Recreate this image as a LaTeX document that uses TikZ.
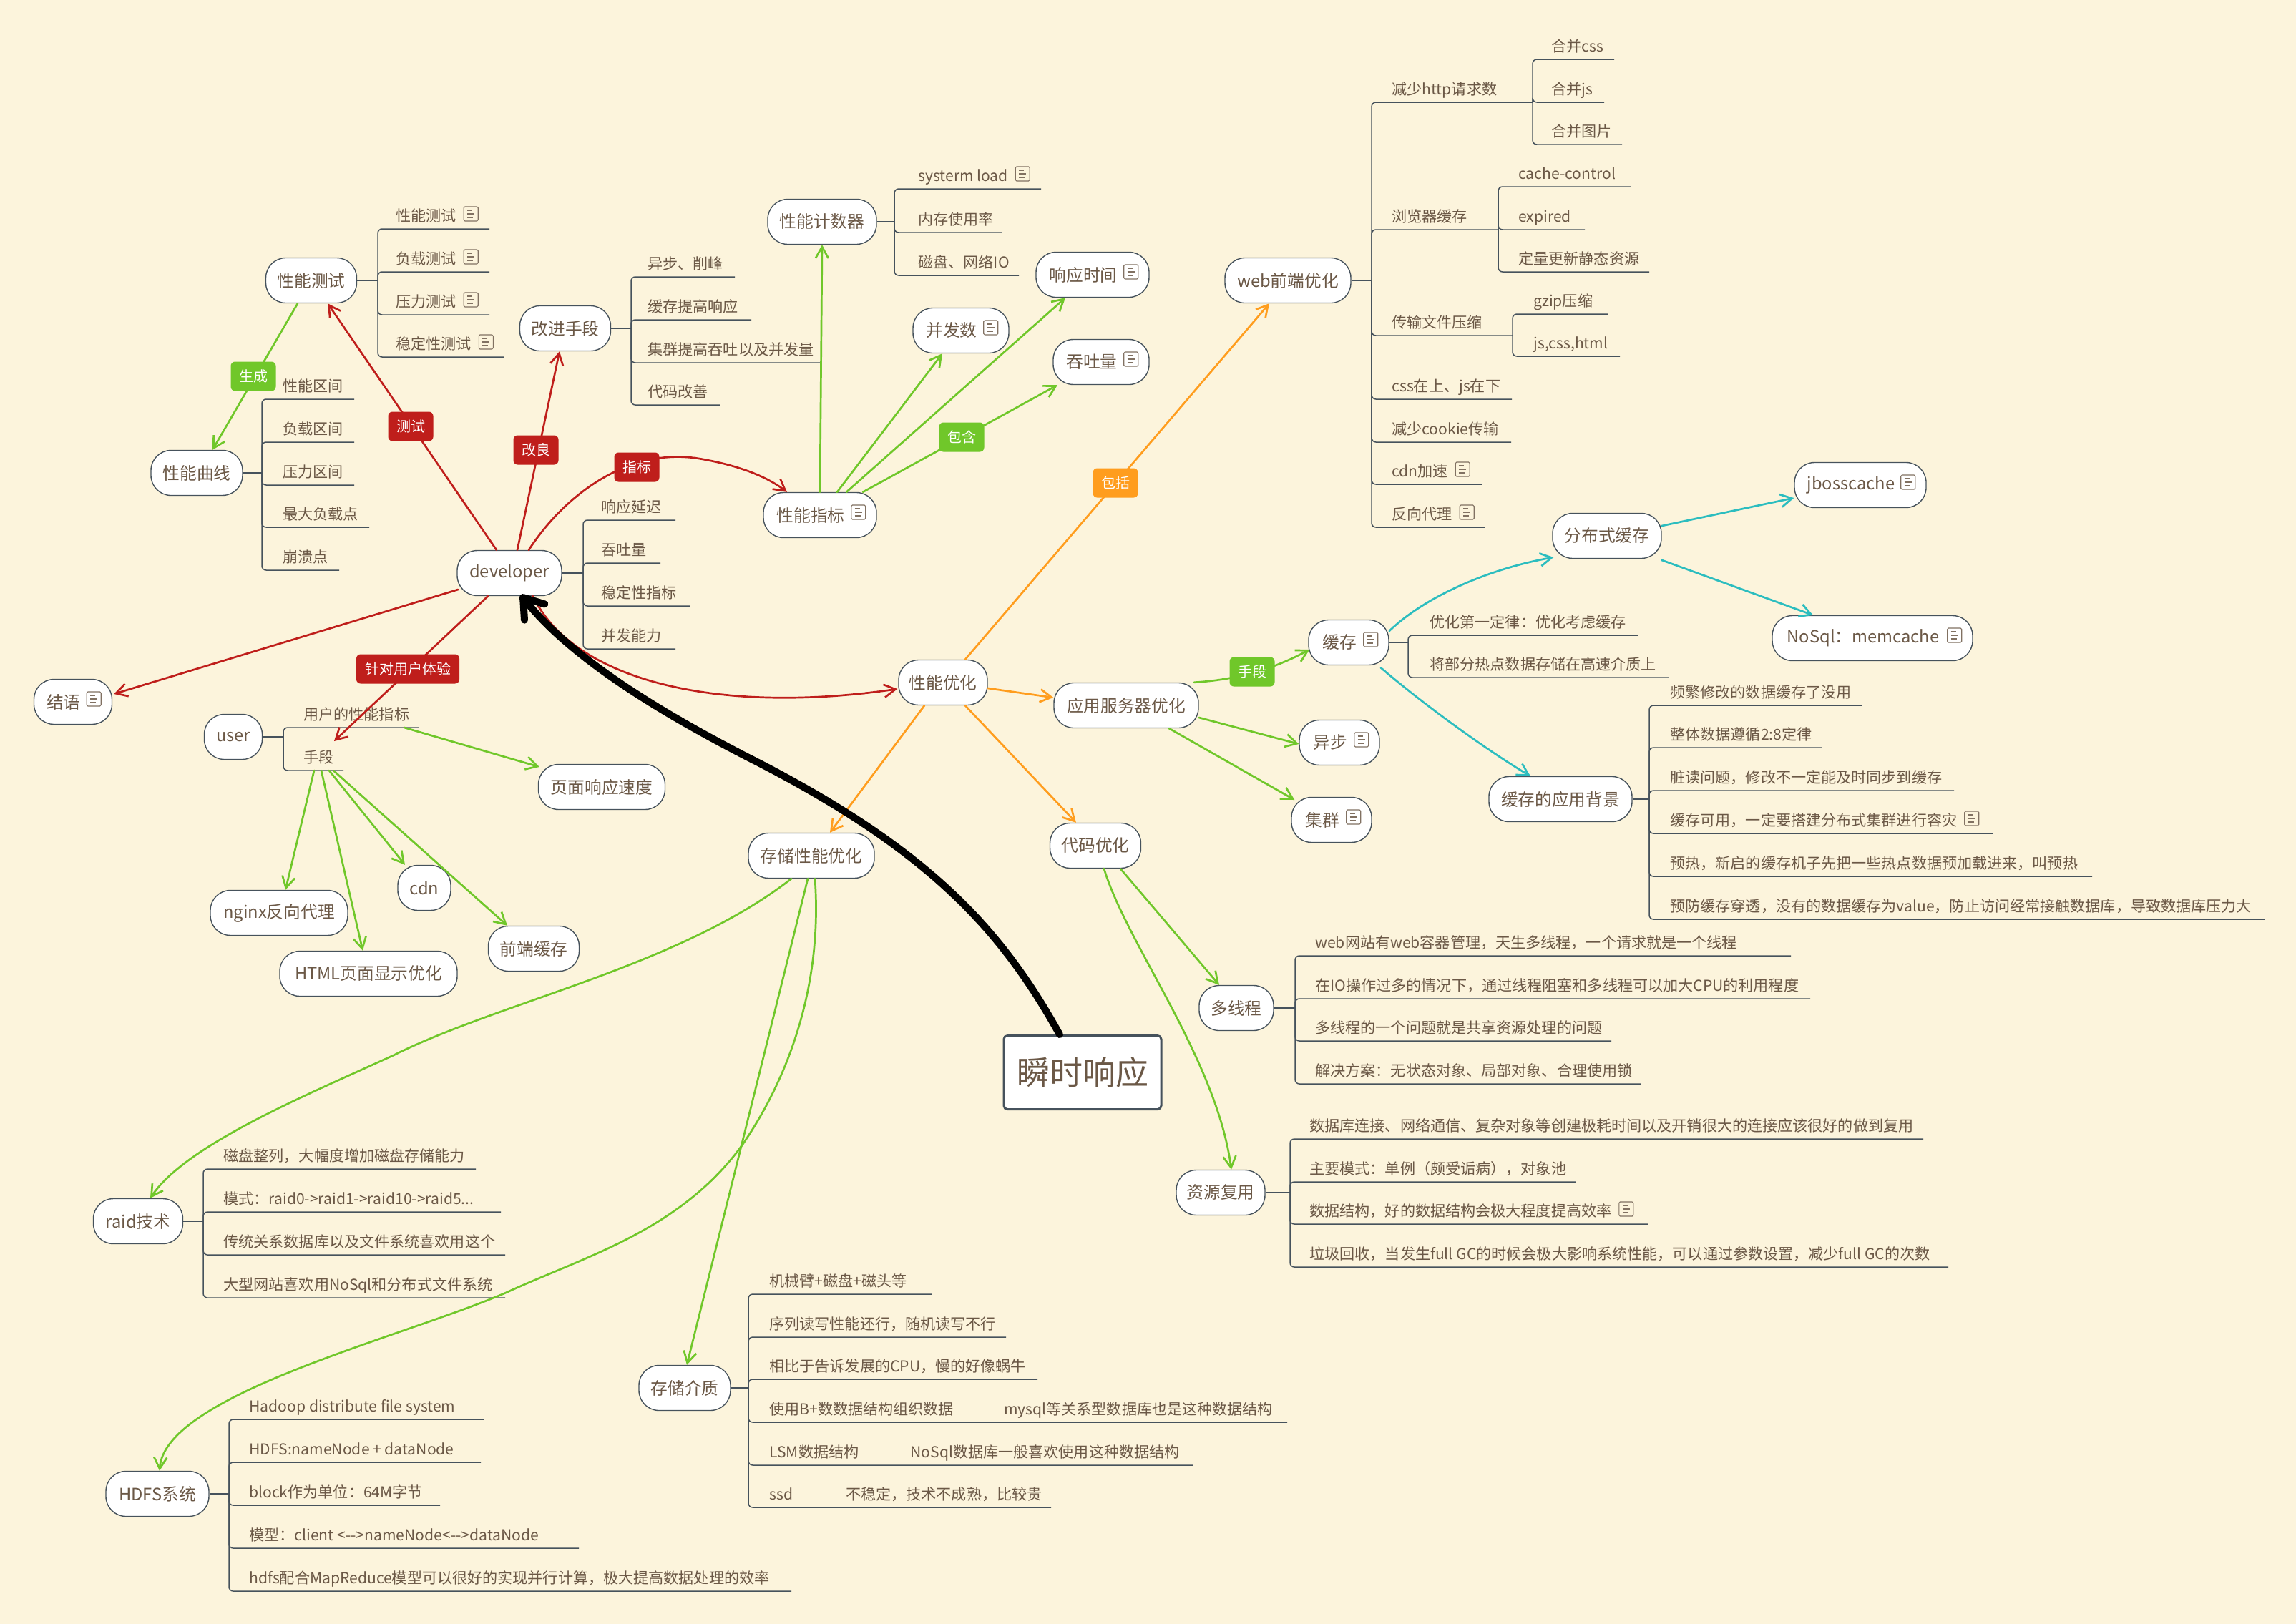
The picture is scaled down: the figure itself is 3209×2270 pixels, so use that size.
\documentclass[tikz,border=0pt]{standalone}
\usepackage{fontspec}
\setmainfont{Noto Sans CJK SC}
\usetikzlibrary{arrows.meta}
\definecolor{bgc}{HTML}{FCF4DC}
\definecolor{ink}{HTML}{6B5846}
\definecolor{edgec}{HTML}{46525C}
\definecolor{cred}{HTML}{BF1E1B}
\definecolor{cgreen}{HTML}{70C72A}
\definecolor{corange}{HTML}{FF9D1E}
\definecolor{cteal}{HTML}{2CBDBF}
\tikzset{
 x=.5pt,y=-.5pt,
 topicbox/.style={draw=edgec,fill=white,line width=.7pt,rounded corners=14pt,text=ink,font=\fontsize{11.85}{14}\selectfont,inner sep=0pt,minimum height=31.5pt},
 mainbox/.style={draw=edgec,fill=white,line width=1.5pt,rounded corners=2.5pt,text=ink,font=\fontsize{23}{27}\selectfont,inner sep=0pt,minimum width=110pt,minimum height=51.5pt},
 leaftext/.style={text=ink,font=\fontsize{10.55}{12}\selectfont,inner sep=0pt,anchor=base west},
 branchln/.style={draw=edgec,line width=.75pt,rounded corners=3pt},
 stubln/.style={draw=edgec,line width=1.2pt},
 tagbox/.style={rounded corners=3pt,text=white,font=\fontsize{10}{12}\selectfont,inner sep=0pt,minimum width=31.5pt,minimum height=20.5pt},
 arrowln/.style={-{Straight Barb[length=8pt,width=9pt,line width=1.35pt]},line width=1.35pt,line cap=round},
 redln/.style={arrowln,draw=cred},
 greenln/.style={arrowln,draw=cgreen},
 orangeln/.style={arrowln,draw=corange},
 tealln/.style={arrowln,draw=cteal},
 heavyln/.style={-{Straight Barb[length=13pt,width=18pt,line width=5pt,round]},line width=5pt,line cap=round,draw=black},
 noteln/.style={draw=ink!85,line width=.55pt},
}
\newcommand\tnode[5]{\node[topicbox,minimum width=#4*.5pt] (#1) at (#2,#3) {#5};}
\newcommand\inode[5]{\node[topicbox,minimum width=#4*.5pt] (#1) at (#2,#3) {#5\hspace*{13pt}};\noteicon{[shift={(-26,-4)}]#1.east}}
\newcommand\noteicon[1]{\begin{scope}[shift={(#1)}]\draw[noteln,rounded corners=.8pt](-10,-10) rectangle (10,10);\draw[noteln] (-5,-5)--(2,-5) (-5,0)--(5,0) (-5,5)--(3,5);\end{scope}}
\newcommand\leafline[6]{\coordinate (#1-l) at (#2,#4);\coordinate (#1-r) at (#5,#4);\node[leaftext] (#1) at (#3,{#4-11}) {#6};}
\newcommand\leafnote[1]{\noteicon{[shift={(20,-10)}]#1.base east}}
\newcommand\branchto[3]{\draw[stubln] (#1) -- (#1 -| #2-l);\foreach \nm in {#3}{\draw[branchln] (#1 -| \nm-l) -- (\nm-l) -- (\nm-r);}}
\begin{document}
\begin{tikzpicture}
\fill[bgc] (0,0) rectangle (3209,2270);
\useasboundingbox (0,0) rectangle (3209,2270);
% topics
\node[mainbox] (topic) at (1513,1499) {瞬时响应};
\tnode{perf}{435}{392}{127}{性能测试}
\tnode{improve}{790}{459}{127}{改进手段}
\tnode{curve}{275}{661}{128}{性能曲线}
\tnode{dev}{712}{801}{146}{developer}
\inode{finish}{102}{981}{109}{结语}
\tnode{counter}{1149}{310}{152}{性能计数器}
\inode{rt}{1527}{384}{158}{响应时间}
\inode{conc}{1343}{462}{134}{并发数}
\inode{thru}{1539}{506}{134}{吞吐量}
\inode{idx}{1146}{720}{158}{性能指标}
\tnode{web}{1800}{392}{176}{web前端优化}
\tnode{dist}{2246}{749}{152}{分布式缓存}
\inode{jb}{2600}{678}{184}{jbosscache}
\inode{nosql}{2617}{892}{280}{NoSql：memcache}
\inode{cache}{1885}{898}{112}{缓存}
\tnode{back}{2181}{1117}{200}{缓存的应用背景}
\inode{async}{1872}{1038}{112}{异步}
\inode{cluster}{1861}{1146}{112}{集群}
\tnode{app}{1574}{986}{202}{应用服务器优化}
\tnode{opt}{1318}{954}{124}{性能优化}
\tnode{code}{1531}{1182}{127}{代码优化}
\tnode{storage}{1134}{1196}{176}{存储性能优化}
\tnode{mt}{1728}{1409}{104}{多线程}
\tnode{reuse}{1706}{1667}{124}{资源复用}
\tnode{raid}{193}{1707}{125}{raid技术}
\tnode{hdfs}{220}{2088}{144}{HDFS系统}
\tnode{media}{957}{1940}{128}{存储介质}
\tnode{user}{326}{1030}{81}{user}
\tnode{speed}{841}{1100}{177}{页面响应速度}
\tnode{cdn}{593}{1241}{74}{cdn}
\tnode{nginx}{390}{1276}{192}{nginx反向代理}
\tnode{html}{515}{1361}{248}{HTML页面显示优化}
\tnode{fend}{746}{1326}{127}{前端缓存}
% leaves
\leafline{pa}{528}{553}{320}{684}{性能测试}\leafnote{pa}
\leafline{pb}{528}{553}{380}{684}{负载测试}\leafnote{pb}
\leafline{pc}{528}{553}{440}{684}{压力测试}\leafnote{pc}
\leafline{pd}{528}{553}{499}{704}{稳定性测试}\leafnote{pd}
\branchto{perf.east}{pa}{pa,pb,pc,pd}
\leafline{ia}{882}{905}{387}{1027}{异步、削峰}
\leafline{ib}{882}{905}{447}{1050}{缓存提高响应}
\leafline{ic}{882}{905}{507}{1146}{集群提高吞吐以及并发量}
\leafline{id}{882}{905}{566}{1006}{代码改善}
\branchto{improve.east}{ia}{ia,ib,ic,id}
\leafline{ca}{366}{395}{558}{495}{性能区间}
\leafline{cb}{366}{395}{618}{495}{负载区间}
\leafline{cc}{366}{395}{678}{495}{压力区间}
\leafline{cd}{366}{395}{737}{516}{最大负载点}
\leafline{ce}{366}{395}{797}{474}{崩溃点}
\branchto{curve.east}{ca}{ca,cb,cc,cd,ce}
\leafline{da}{815}{840}{727}{944}{响应延迟}
\leafline{db}{815}{840}{787}{923}{吞吐量}
\leafline{dc}{815}{840}{847}{964}{稳定性指标}
\leafline{dd}{815}{840}{907}{944}{并发能力}
\branchto{dev.east}{da}{da,db,dc,dd}
\leafline{na}{1250}{1283}{264}{1455}{systerm load}\leafnote{na}
\leafline{nb}{1250}{1283}{325}{1400}{内存使用率}
\leafline{nc}{1250}{1283}{385}{1424}{磁盘、网络IO}
\branchto{counter.east}{na}{na,nb,nc}
\leafline{wa}{1917}{1945}{143}{2142}{减少http请求数}
\leafline{wb}{1917}{1945}{321}{2094}{浏览器缓存}
\leafline{wc}{1917}{1945}{469}{2114}{传输文件压缩}
\leafline{wd}{1917}{1945}{558}{2113}{css在上、js在下}
\leafline{we}{1917}{1945}{618}{2112}{减少cookie传输}
\leafline{wf}{1917}{1945}{677}{2071}{cdn加速}\leafnote{wf}
\leafline{wg}{1917}{1945}{737}{2075}{反向代理}\leafnote{wg}
\branchto{web.east}{wa}{wa,wb,wc,wd,we,wf,wg}
\leafline{xa}{2142}{2168}{83}{2256}{合并css}
\leafline{xb}{2142}{2168}{143}{2242}{合并js}
\leafline{xc}{2142}{2168}{202}{2267}{合并图片}
\branchto{wa-r}{xa}{xa,xb,xc}
\leafline{ya}{2094}{2122}{261}{2279}{cache-control}
\leafline{yb}{2094}{2122}{321}{2215}{expired}
\leafline{yc}{2094}{2122}{380}{2305}{定量更新静态资源}
\branchto{wb-r}{ya}{ya,yb,yc}
\leafline{za}{2114}{2143}{439}{2247}{gzip压缩}
\leafline{zb}{2114}{2143}{498}{2264}{js,css,html}
\draw[stubln] (wc-r) -- (wc-r -| za-l);
\draw[branchln] (za-l |- wc-r) -- (za-l) -- (za-r);
\draw[branchln] (zb-l |- wc-r) -- (zb-l) -- (zb-r);
\leafline{ka}{1968}{1998}{888}{2289}{优化第一定律：优化考虑缓存}
\leafline{kb}{1968}{1998}{947}{2332}{将部分热点数据存储在高速介质上}
\branchto{cache.east}{ka}{ka,kb}
\leafline{ba}{2305}{2334}{986}{2602}{频繁修改的数据缓存了没用}
\leafline{bb}{2305}{2334}{1045}{2546}{整体数据遵循2:8定律}
\leafline{bc}{2305}{2334}{1105}{2731}{脏读问题，修改不一定能及时同步到缓存}
\leafline{bd}{2305}{2334}{1165}{2785}{缓存可用，一定要搭建分布式集群进行容灾}\leafnote{bd}
\leafline{be}{2305}{2334}{1225}{2924}{预热，新启的缓存机子先把一些热点数据预加载进来，叫预热}
\leafline{bf}{2305}{2334}{1285}{3165}{预防缓存穿透，没有的数据缓存为value，防止访问经常接触数据库，导致数据库压力大}
\branchto{back.east}{ba}{ba,bb,bc,bd,be,bf}
\leafline{ma}{1810}{1838}{1336}{2503}{web网站有web容器管理，天生多线程，一个请求就是一个线程}
\leafline{mb}{1810}{1838}{1396}{2530}{在IO操作过多的情况下，通过线程阻塞和多线程可以加大CPU的利用程度}
\leafline{mc}{1810}{1838}{1455}{2252}{多线程的一个问题就是共享资源处理的问题}
\leafline{md}{1810}{1838}{1515}{2293}{解决方案：无状态对象、局部对象、合理使用锁}
\branchto{mt.east}{ma}{ma,mb,mc,md}
\leafline{ra}{1803}{1830}{1592}{2688}{数据库连接、网络通信、复杂对象等创建极耗时间以及开销很大的连接应该很好的做到复用}
\leafline{rb}{1803}{1830}{1652}{2202}{主要模式：单例（颇受诟病），对象池}
\leafline{rc}{1803}{1830}{1711}{2303}{数据结构，好的数据结构会极大程度提高效率}\leafnote{rc}
\leafline{rd}{1803}{1830}{1771}{2723}{垃圾回收，当发生full GC的时候会极大影响系统性能，可以通过参数设置，减少full GC的次数}
\branchto{reuse.east}{ra}{ra,rb,rc,rd}
\leafline{ta}{284}{312}{1634}{665}{磁盘整列，大幅度增加磁盘存储能力}
\leafline{tb}{284}{312}{1694}{700}{模式：raid0->raid1->raid10->raid5...}
\leafline{tc}{284}{312}{1754}{706}{传统关系数据库以及文件系统喜欢用这个}
\leafline{td}{284}{312}{1814}{706}{大型网站喜欢用NoSql和分布式文件系统}
\branchto{raid.east}{ta}{ta,tb,tc,td}
\leafline{ha}{320}{348}{1984}{676}{Hadoop distribute file system}
\leafline{hb}{320}{348}{2044}{672}{HDFS:nameNode + dataNode}
\leafline{hc}{320}{348}{2104}{615}{block作为单位：64M字节}
\leafline{hd}{320}{348}{2164}{809}{模型：client <-{}->nameNode<-{}->dataNode}
\leafline{he}{320}{348}{2224}{1106}{hdfs配合MapReduce模型可以很好的实现并行计算，极大提高数据处理的效率}
\branchto{hdfs.east}{ha}{ha,hb,hc,hd,he}
\leafline{sa}{1046}{1075}{1809}{1302}{机械臂+磁盘+磁头等}
\leafline{sb}{1046}{1075}{1869}{1406}{序列读写性能还行，随机读写不行}
\leafline{sc}{1046}{1075}{1928}{1450}{相比于告诉发展的CPU，慢的好像蜗牛}
\leafline{sd}{1046}{1075}{1988}{1799}{使用B+数数据结构组织数据\hspace*{35pt}mysql等关系型数据库也是这种数据结构}
\leafline{se}{1046}{1075}{2048}{1667}{LSM数据结构\hspace*{36pt}NoSql数据库一般喜欢使用这种数据结构}
\leafline{sf}{1046}{1075}{2107}{1469}{ssd\hspace*{37pt}不稳定，技术不成熟，比较贵}
\branchto{media.east}{sa}{sa,sb,sc,sd,se,sf}
\leafline{ua}{396}{424}{1017}{585}{用户的性能指标}
\leafline{ub}{396}{424}{1077}{480}{手段}
\branchto{user.east}{ua}{ua,ub}
% connectors
\draw[greenln] ([shift={(-19,0)}]perf.south) -- ([shift={(22,0)}]curve.north);
\draw[redln] ([shift={(-18,0)}]dev.north) -- ([shift={(23,0)}]perf.south);
\draw[redln] ([shift={(11,0)}]dev.north) -- ([shift={(-8,0)}]improve.south);
\draw[redln] ([shift={(27,0)}]dev.north) .. controls (790,690) and (880,625) .. (977,641) .. controls (1030,650) and (1070,665) .. ([shift={(-46,0)}]idx.north);
\draw[redln] ([shift={(2,23)}]dev.west) -- ([shift={(2,-11)}]finish.east);
\draw[redln] ([shift={(-30,0)}]dev.south) -- ([shift={(0,-30)}]ub.base east);
\draw[redln] ([shift={(33,0)}]dev.south) .. controls (800,950) and (1000,1000) .. ([shift={(-1,9)}]opt.west);
\draw[greenln] (idx.north) -- (counter.south);
\draw[greenln] ([shift={(24,0)}]idx.north) -- ([shift={(-26,0)}]conc.south);
\draw[greenln] ([shift={(37,0)}]idx.north) -- ([shift={(-38,0)}]rt.south);
\draw[greenln] ([shift={(60,0)}]idx.north) -- ([shift={(-61,0)}]thru.south);
\draw[orangeln] ([shift={(31,0)}]opt.north) -- ([shift={(-26,0)}]web.south);
\draw[orangeln] ([shift={(0,8)}]opt.east) -- ([shift={(0,-11)}]app.west);
\draw[orangeln] ([shift={(-26,0)}]opt.south) -- ([shift={(26,0)}]storage.north);
\draw[orangeln] ([shift={(31,0)}]opt.south) -- ([shift={(-27,0)}]code.north);
\draw[greenln] ([shift={(95,0)}]app.north) .. controls (1730,950) and (1780,935) .. ([shift={(2,10)}]cache.west);
\draw[greenln] ([shift={(0,17)}]app.east) -- ([shift={(0,2)}]async.west);
\draw[greenln] ([shift={(60,0)}]app.south) -- ([shift={(5,-28)}]cluster.west);
\draw[tealln] ([shift={(0,-16)}]cache.east) .. controls (1990,835) and (2080,795) .. ([shift={(2,30)}]dist.west);
\draw[tealln] ([shift={(-12,3)}]cache.south east) .. controls (1990,985) and (2080,1050) .. ([shift={(-42,0)}]back.north);
\draw[tealln] ([shift={(0,-14)}]dist.east) -- ([shift={(0,18)}]jb.west);
\draw[tealln] ([shift={(0,34)}]dist.east) -- ([shift={(-83,0)}]nosql.north);
\draw[greenln] ([shift={(35,0)}]code.south) -- ([shift={(-24,0)}]mt.north);
\draw[greenln] ([shift={(12,0)}]code.south) .. controls (1575,1320) and (1700,1480) .. ([shift={(15,0)}]reuse.north);
\draw[greenln] ([shift={(-28,0)}]storage.south) .. controls (950,1350) and (700,1400) .. (550,1475) .. controls (430,1530) and (260,1600) .. ([shift={(17,0)}]raid.north);
\draw[greenln] ([shift={(-5,0)}]storage.south) -- ([shift={(3,0)}]media.north);
\draw[greenln] ([shift={(5,0)}]storage.south) .. controls (1150,1380) and (1100,1510) .. (1037,1601) .. controls (950,1720) and (820,1755) .. (707,1807) .. controls (560,1870) and (230,1950) .. ([shift={(3,0)}]hdfs.north);
\draw[greenln] ([shift={(-20,0)}]ua-r) -- ([shift={(2,-28)}]speed.west);
\draw[greenln] ([shift={(-41,0)}]ub-r) -- ([shift={(9,0)}]nginx.north);
\draw[greenln] ([shift={(-31,0)}]ub-r) -- ([shift={(-8,0)}]html.north);
\draw[greenln] ([shift={(-20,0)}]ub-r) -- ([shift={(-27,0)}]cdn.north);
\draw[greenln] ([shift={(-14,0)}]ub-r) -- ([shift={(-37,0)}]fend.north);
\draw[heavyln] ([shift={(-32,0)}]topic.north) .. controls (1400,1300) and (1300,1190) .. (1060,1066) .. controls (900,985) and (790,910) .. ([shift={(16,-2)}]dev.south);
% labels on connectors
\node[tagbox,fill=cgreen] (tga) at (354,526) {生成};
\node[tagbox,fill=cred] (tgb) at (574,596) {测试};
\node[tagbox,fill=cred] (tgc) at (749,629) {改良};
\node[tagbox,fill=cred] (tgd) at (890,653) {指标};
\node[tagbox,fill=cred,minimum width=72pt] (tge) at (570,935) {针对用户体验};
\node[tagbox,fill=cgreen] (tgf) at (1344,611) {包含};
\node[tagbox,fill=corange] (tgg) at (1559,675) {包括};
\node[tagbox,fill=cgreen] (tgh) at (1750,939) {手段};
\end{tikzpicture}
\end{document}
